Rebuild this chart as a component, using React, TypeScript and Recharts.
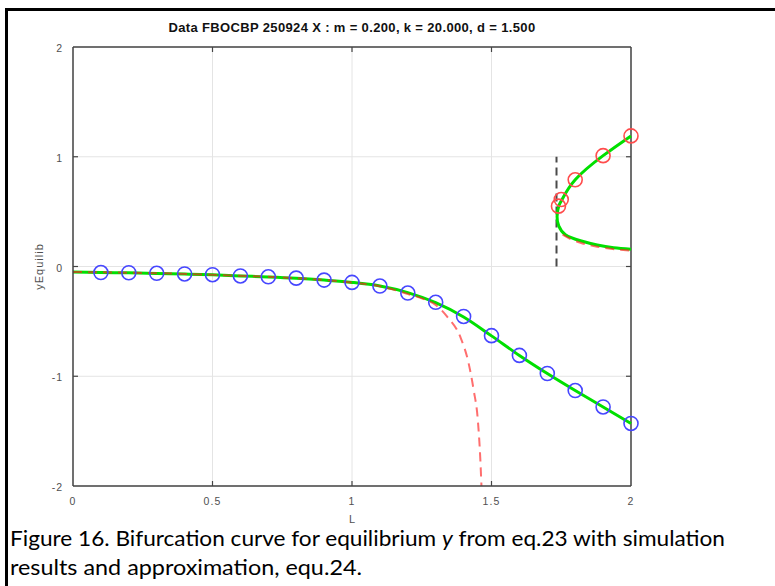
import { LineChart, Line, XAxis, YAxis, CartesianGrid, ReferenceLine } from 'recharts';

// chart geometry
const W = 775;
const H = 586;
const MARGIN = { top: 47, right: 144, bottom: 70, left: 13 };
const Y_AXIS_W = 60;
const X_AXIS_H = 30;
const PLOT_W = W - MARGIN.left - MARGIN.right - Y_AXIS_W;
const PLOT_H = H - MARGIN.top - MARGIN.bottom - X_AXIS_H;

const AXIS = '#454545';
const LABEL = '#505050';
const GREEN = '#00e000';
const RED = '#ff2020';
const BLUE = '#4646ff';
const RED_MARK = '#ff4d4d';
const SANS = '"Liberation Sans", Arial, sans-serif';

const X_TICKS = [0, 0.5, 1, 1.5, 2];
const Y_TICKS = [-2, -1, 0, 1, 2];

// simulation results, lower branch (blue circles)
const L_SIM_LOW = [0.1, 0.2, 0.3, 0.4, 0.5, 0.6, 0.7, 0.8, 0.9, 1.0, 1.1, 1.2, 1.3, 1.4, 1.5, 1.6, 1.7, 1.8, 1.9, 2.0];
const Y_SIM_LOW = [-0.055, -0.057, -0.062, -0.068, -0.075, -0.086, -0.094, -0.106, -0.124, -0.145, -0.178, -0.242, -0.326, -0.455, -0.63, -0.81, -0.975, -1.13, -1.28, -1.43];

// simulation results, upper branch (red circles)
const L_SIM_UP = [1.74, 1.75, 1.8, 1.9, 2.0];
const Y_SIM_UP = [0.55, 0.61, 0.79, 1.01, 1.19];

// equilibrium curve from eq.23 (green)
const L_EQ_LOW = [0, 0.1, 0.2, 0.3, 0.4, 0.5, 0.6, 0.7, 0.8, 0.9, 1.0, 1.1, 1.2, 1.3, 1.4, 1.5, 1.6, 1.7, 1.8, 1.9, 2.0];
const Y_EQ_LOW = [-0.05, -0.055, -0.058, -0.063, -0.069, -0.076, -0.086, -0.095, -0.107, -0.124, -0.145, -0.178, -0.238, -0.33, -0.46, -0.632, -0.81, -0.975, -1.13, -1.28, -1.43];
const L_EQ_UP = [2.0, 1.9, 1.8, 1.753, 1.741, 1.735, 1.741, 1.765, 1.819, 1.879, 1.938, 2.0];
const Y_EQ_UP = [1.19, 1.01, 0.79, 0.61, 0.55, 0.455, 0.37, 0.29, 0.235, 0.196, 0.171, 0.157];

// approximation equ.24 (red dashed)
const L_AP_LOW = [0, 0.5, 1.0, 1.1, 1.2, 1.25, 1.3, 1.341, 1.388, 1.418, 1.436, 1.451, 1.46, 1.464];
const Y_AP_LOW = [-0.05, -0.076, -0.147, -0.18, -0.25, -0.29, -0.35, -0.457, -0.64, -0.882, -1.125, -1.4, -1.76, -2.0];
const L_AP_UP = [1.755, 1.78, 1.819, 1.879, 1.94, 2.0];
const Y_AP_UP = [0.29, 0.255, 0.217, 0.18, 0.158, 0.144];

// fold marker (black dashed)
const L_FOLD = [1.733, 1.733];
const Y_FOLD = [0, 1];

const zip = (xs: number[], ys: number[]) => xs.map((x, i) => ({ x, y: ys[i] }));

function XTick({ x, y, payload }: any) {
  const v = payload.value;
  const edge = v === X_TICKS[0] || v === X_TICKS[X_TICKS.length - 1];
  return (
    <g>
      {!edge && <line x1={x} x2={x} y1={y} y2={y - 5} stroke={AXIS} strokeWidth={1.2} />}
      {!edge && <line x1={x} x2={x} y1={y - PLOT_H} y2={y - PLOT_H + 5} stroke={AXIS} strokeWidth={1.2} />}
      <text x={x} y={y + 18.5} textAnchor="middle" fill={LABEL} fontSize={10.5} letterSpacing={1.2} fontFamily={SANS}>
        {v}
      </text>
    </g>
  );
}

function YTick({ x, y, payload }: any) {
  const v = payload.value;
  const edge = v === Y_TICKS[0] || v === Y_TICKS[Y_TICKS.length - 1];
  return (
    <g>
      {!edge && <line x1={x} x2={x + 5} y1={y} y2={y} stroke={AXIS} strokeWidth={1.2} />}
      {!edge && <line x1={x + PLOT_W} x2={x + PLOT_W - 5} y1={y} y2={y} stroke={AXIS} strokeWidth={1.2} />}
      <text x={x - 10} y={y + 5} textAnchor="end" fill={LABEL} fontSize={10.5} letterSpacing={1} fontFamily={SANS}>
        {v}
      </text>
    </g>
  );
}

export default function App() {
  const plotCx = MARGIN.left + Y_AXIS_W + PLOT_W / 2;
  return (
    <div style={{ position: 'absolute', left: 0, top: 0, width: W, height: H, background: '#fff', overflow: 'hidden' }}>
      <div
        style={{
          position: 'absolute',
          left: 5,
          top: 8,
          width: W,
          height: H,
          borderLeft: '3px solid #000',
          borderTop: '3px solid #000',
        }}
      />
      <div style={{ position: 'absolute', left: 0, top: 0 }}>
        <LineChart width={W} height={H} margin={MARGIN}>
          <CartesianGrid stroke="#e4e4e4" strokeWidth={1} />
          <XAxis
            dataKey="x"
            type="number"
            domain={[0, 2]}
            ticks={X_TICKS}
            height={X_AXIS_H}
            tickSize={0}
            tickMargin={0}
            tickLine={false}
            tick={XTick}
            axisLine={{ stroke: AXIS, strokeWidth: 1.5 }}
          />
          <YAxis
            dataKey="y"
            type="number"
            domain={[-2, 2]}
            ticks={Y_TICKS}
            width={Y_AXIS_W}
            tickSize={0}
            tickMargin={0}
            tickLine={false}
            tick={YTick}
            axisLine={{ stroke: AXIS, strokeWidth: 1.5 }}
          />
          <ReferenceLine y={2} stroke={AXIS} strokeWidth={1.5} />
          <ReferenceLine x={2} stroke={AXIS} strokeWidth={1.5} />

          <Line data={zip(L_FOLD, Y_FOLD)} dataKey="y" type="linear" stroke="#4a4a4a" strokeWidth={2} strokeDasharray="8 5" dot={false} activeDot={false} isAnimationActive={false} />

          <Line data={zip(L_EQ_LOW, Y_EQ_LOW)} dataKey="y" type="monotone" stroke={GREEN} strokeWidth={3} dot={false} activeDot={false} isAnimationActive={false} />
          <Line data={zip(L_EQ_UP, Y_EQ_UP)} dataKey="y" type="natural" stroke={GREEN} strokeWidth={3} dot={false} activeDot={false} isAnimationActive={false} />

          <Line data={zip(L_AP_LOW, Y_AP_LOW)} dataKey="y" type="monotone" stroke={RED} strokeOpacity={0.65} strokeWidth={2} strokeDasharray="9 6" dot={false} activeDot={false} isAnimationActive={false} />
          <Line data={zip(L_AP_UP, Y_AP_UP)} dataKey="y" type="monotone" stroke={RED} strokeOpacity={0.65} strokeWidth={2} strokeDasharray="9 6" dot={false} activeDot={false} isAnimationActive={false} />

          <Line
            data={zip(L_SIM_LOW, Y_SIM_LOW)}
            dataKey="y"
            stroke="none"
            dot={{ r: 7, stroke: BLUE, strokeWidth: 1.6, fill: 'none' }}
            activeDot={false}
            isAnimationActive={false}
          />
          <Line
            data={zip(L_SIM_UP, Y_SIM_UP)}
            dataKey="y"
            stroke="none"
            dot={{ r: 7, stroke: RED_MARK, strokeWidth: 1.6, fill: 'none' }}
            activeDot={false}
            isAnimationActive={false}
          />
        </LineChart>
      </div>
      <svg width={W} height={H} style={{ position: 'absolute', left: 0, top: 0, pointerEvents: 'none' }}>
        <text x={plotCx} y={32} textAnchor="middle" fontFamily={SANS} fontWeight="bold" fontSize={13} letterSpacing={0.35} fill="#111">
          Data FBOCBP 250924 X : m = 0.200, k = 20.000, d = 1.500
        </text>
        <text x={plotCx} y={523} textAnchor="middle" fontFamily={SANS} fontSize={11} fill={LABEL}>
          L
        </text>
        <text
          x={43}
          y={MARGIN.top + PLOT_H / 2}
          transform={`rotate(-90 43 ${MARGIN.top + PLOT_H / 2})`}
          textAnchor="middle"
          fontFamily={SANS}
          fontSize={11}
          letterSpacing={1}
          fill={LABEL}
        >
          yEquilib
        </text>
        <text x={10} y={546} fontFamily="Lato, 'Open Sans', sans-serif" fontSize={22} fill="#000" textLength={715} lengthAdjust="spacingAndGlyphs">
          Figure 16. Bifurcation curve for equilibrium <tspan fontStyle="italic">y</tspan> from eq.23 with simulation
        </text>
        <text x={10} y={575} fontFamily="Lato, 'Open Sans', sans-serif" fontSize={22} fill="#000" textLength={352} lengthAdjust="spacingAndGlyphs">
          results and approximation, equ.24.
        </text>
      </svg>
    </div>
  );
}
